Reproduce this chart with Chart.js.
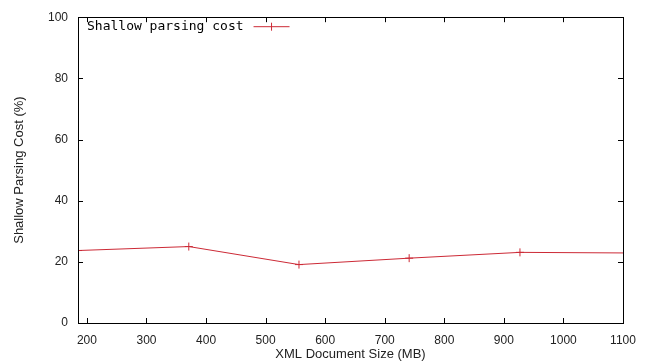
<!DOCTYPE html>
<html><head><meta charset="utf-8">
<script src="https://cdn.jsdelivr.net/npm/chart.js@4/dist/chart.umd.min.js"></script>
<style>html,body{margin:0;padding:0;background:#fff}#w{width:648px;height:362px}</style>
</head><body><div id="w"><canvas id="c" width="648" height="362"></canvas></div>
<script>
const sizes = [185, 371, 556, 741, 927, 1112];
const costs = [23.7, 25.0, 19.1, 21.2, 23.1, 22.9];
const xTicks = [200, 300, 400, 500, 600, 700, 800, 900, 1000, 1100];
const yTicks = [0, 20, 40, 60, 80, 100];
const seriesName = 'Shallow parsing cost';
const xTitle = 'XML Document Size (MB)';
const yTitle = 'Shallow Parsing Cost (%)';
const RED = '#cc2a36';

const framePlugin = {
  id: 'frame',
  afterDraw(chart) {
    const {ctx, chartArea: a, scales: {x, y}} = chart;
    ctx.save();
    ctx.strokeStyle = '#000'; ctx.lineWidth = 1;
    ctx.strokeRect(Math.round(a.left) + 0.5, Math.round(a.top) + 0.5, Math.round(a.right - a.left), Math.round(a.bottom - a.top));
    ctx.beginPath();
    const t = 5;
    xTicks.forEach(v => { const px = Math.round(x.getPixelForValue(v)) + 0.5;
      ctx.moveTo(px, a.bottom); ctx.lineTo(px, a.bottom - t);
      ctx.moveTo(px, a.top); ctx.lineTo(px, a.top + t); });
    yTicks.forEach(v => { const py = Math.round(y.getPixelForValue(v)) + 0.5;
      ctx.moveTo(a.left, py); ctx.lineTo(a.left + t, py);
      ctx.moveTo(a.right, py); ctx.lineTo(a.right - t, py); });
    ctx.stroke();
    // legend
    ctx.font = '13px "DejaVu Sans Mono", "Liberation Mono", monospace';
    ctx.fillStyle = '#000'; ctx.textBaseline = 'middle'; ctx.textAlign = 'left';
    const ly = a.top + 9;
    ctx.fillText(seriesName, a.left + 9, ly);
    const w = ctx.measureText(seriesName).width;
    const sx = a.left + 9 + w + 10, ex = sx + 36;
    ctx.strokeStyle = RED; ctx.beginPath();
    ctx.moveTo(sx, ly + 0.5); ctx.lineTo(ex, ly + 0.5);
    const mx = (sx + ex) / 2;
    ctx.moveTo(mx, ly - 3.5); ctx.lineTo(mx, ly + 4.5);
    ctx.stroke();
    ctx.restore();
  }
};

new Chart(document.getElementById('c'), {
  type: 'line',
  data: { datasets: [{
    label: seriesName,
    data: sizes.map((s, i) => ({x: s, y: costs[i]})),
    borderColor: RED, backgroundColor: RED, borderWidth: 1,
    pointStyle: 'cross', pointRadius: 4, pointBorderWidth: 1, pointBorderColor: RED,
    tension: 0, fill: false
  }]},
  options: {
    responsive: false, animation: false, devicePixelRatio: 1,
    layout: { padding: { top: 10, right: 25, left: 12, bottom: 0 } },
    plugins: { legend: { display: false }, tooltip: { enabled: false } },
    scales: {
      x: { type: 'linear', min: 185, max: 1100,
        afterBuildTicks: s => { s.ticks = xTicks.map(v => ({value: v})); },
        afterFit: s => { s.height = 39; },
        grid: { display: false, drawTicks: false }, border: { display: false },
        ticks: { color: '#222', font: { family: 'Liberation Sans', size: 12 }, padding: 10, maxRotation: 0, autoSkip: false,
          callback: v => String(v) },
        title: { display: true, text: xTitle, color: '#222', font: { family: 'Liberation Sans', size: 13 }, padding: { top: 0, bottom: 0 } }
      },
      y: { type: 'linear', min: 0, max: 100,
        afterBuildTicks: s => { s.ticks = yTicks.map(v => ({value: v})); },
        afterFit: s => { s.width = 66; },
        grid: { display: false, drawTicks: false }, border: { display: false },
        ticks: { color: '#222', font: { family: 'Liberation Sans', size: 12 }, padding: 10, callback: v => String(v) },
        title: { display: true, text: yTitle, color: '#222', font: { family: 'Liberation Sans', size: 13 }, padding: { top: 0, bottom: 0 } }
      }
    }
  },
  plugins: [framePlugin]
});
</script></body></html>
